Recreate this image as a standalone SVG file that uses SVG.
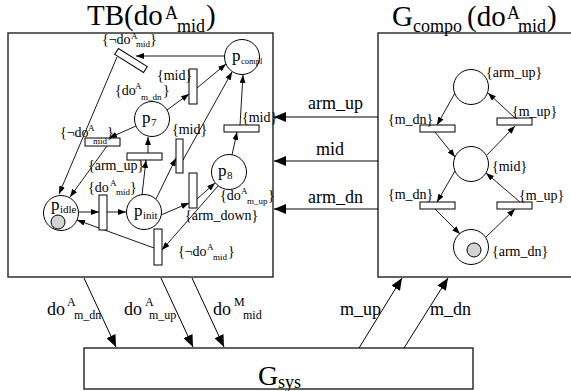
<svg xmlns="http://www.w3.org/2000/svg" width="571" height="391" viewBox="0 0 571 391">
  <style>
    text { font-family: "Liberation Serif", "Times New Roman", serif; fill: #000; }
    .ttl { font-size: 29px; }
    .tsub { font-size: 18px; }
    .io { font-size: 18px; }
    .iosub { font-size: 12px; }
    .lb { font-size: 14px; }
    .sm { font-size: 9px; }
    .pn { font-size: 17px; }
    .ps { font-size: 11px; }
    .box { fill: #fff; stroke: #222; stroke-width: 1.4; }
    .pl { fill: #fff; stroke: #000; stroke-width: 1; }
    .tr { fill: #fff; stroke: #000; stroke-width: 1; }
    .tok { fill: #d3d3d3; stroke: #000; stroke-width: 1; }
    .arc { fill: none; stroke: #000; stroke-width: 0.9; marker-end: url(#as); }
    .big { fill: none; stroke: #000; stroke-width: 1; marker-end: url(#ab); }
  </style>
  <defs>
    <marker id="ab" markerWidth="12" markerHeight="10" refX="12" refY="5" orient="auto" markerUnits="userSpaceOnUse">
      <path d="M0,0 L12,5 L0,10 z" fill="#000"/>
    </marker>
    <marker id="as" markerWidth="8" markerHeight="6" refX="8" refY="3" orient="auto" markerUnits="userSpaceOnUse">
      <path d="M0,0 L8,3 L0,6 z" fill="#000"/>
    </marker>
  </defs>

  <rect width="571" height="391" fill="#fff"/>

  <!-- subsystem boxes -->
  <g id="tb">
    <rect class="box" x="8" y="33" width="265" height="244"/>
    <text class="ttl" x="87" y="25">TB(do</text>
    <text class="tsub" x="165" y="19">A</text>
    <text class="tsub" x="177" y="32">mid</text>
    <text class="ttl" x="206" y="25">)</text>
  </g>
  <g id="gcompo">
    <rect class="box" x="378" y="33" width="200" height="244"/>
    <text class="ttl" x="392" y="26">G</text>
    <text class="tsub" x="413" y="32" font-size="20">compo</text>
    <text class="ttl" x="467" y="26">(do</text>
    <text class="tsub" x="507" y="19">A</text>
    <text class="tsub" x="518" y="32">mid</text>
    <text class="ttl" x="547" y="26">)</text>
  </g>
  <g id="gsys">
    <rect class="box" x="84" y="348" width="389" height="41"/>
    <text x="258" y="385" font-size="28">G</text>
    <text x="278" y="388" font-size="18">sys</text>
  </g>

  <!-- connectors -->
  <g id="connectors">
    <!-- between the boxes -->
    <line class="big" x1="378" y1="117" x2="274" y2="117"/>
    <line class="big" x1="378" y1="161" x2="274" y2="161"/>
    <line class="big" x1="378" y1="209" x2="274" y2="209"/>
    <line class="big" x1="84" y1="278" x2="116" y2="347"/>
    <line class="big" x1="161" y1="278" x2="193" y2="347"/>
    <line class="big" x1="192" y1="278" x2="224" y2="347"/>
    <line class="big" x1="359" y1="348" x2="402" y2="278"/>
    <line class="big" x1="404" y1="348" x2="448" y2="278"/>

    <!-- net inside TB -->
    <line class="arc" x1="225" y1="56" x2="136" y2="56"/>
    <line class="arc" x1="117" y1="57" x2="59" y2="194"/>
    <line class="arc" x1="136" y1="126" x2="109" y2="138"/>
    <line class="arc" x1="107" y1="146" x2="70" y2="197"/>
    <line class="arc" x1="142" y1="195" x2="146" y2="160"/>
    <line class="arc" x1="148" y1="153" x2="148" y2="137"/>
    <line class="arc" x1="79" y1="212" x2="99" y2="212"/>
    <line class="arc" x1="107" y1="212" x2="126" y2="212"/>
    <line class="arc" x1="156" y1="199" x2="176" y2="158"/>
    <line class="arc" x1="183" y1="160" x2="232" y2="72"/>
    <line class="arc" x1="167" y1="110" x2="189" y2="94"/>
    <line class="arc" x1="197" y1="88" x2="226" y2="64"/>
    <line class="arc" x1="240" y1="125" x2="243" y2="75"/>
    <line class="arc" x1="232" y1="155" x2="237" y2="132"/>
    <line class="arc" x1="161" y1="215" x2="189" y2="203"/>
    <line class="arc" x1="197" y1="199" x2="215" y2="183"/>
    <line class="arc" x1="218" y1="186" x2="162" y2="250"/>
    <line class="arc" x1="154" y1="248" x2="77" y2="220"/>

    <!-- net inside G_compo -->
    <line class="arc" x1="455" y1="93" x2="437" y2="125"/>
    <line class="arc" x1="435" y1="132" x2="455" y2="157"/>
    <line class="arc" x1="487" y1="155" x2="515" y2="126"/>
    <line class="arc" x1="515" y1="118" x2="488" y2="93"/>
    <line class="arc" x1="455" y1="171" x2="437" y2="202"/>
    <line class="arc" x1="435" y1="209" x2="460" y2="234"/>
    <line class="arc" x1="486" y1="237" x2="515" y2="209"/>
    <line class="arc" x1="520" y1="202" x2="486" y2="173"/>
  </g>

  <!-- labels of the connectors between boxes -->
  <g id="io-labels">
    <text class="io" x="308" y="109">arm_up</text>
    <text class="io" x="316" y="155">mid</text>
    <text class="io" x="308" y="203">arm_dn</text>
    <text class="io" x="47" y="315" font-size="20">do</text>
    <text class="iosub" x="67" y="306">A</text>
    <text class="iosub" x="74" y="319">m_dn</text>
    <text class="io" x="124" y="315" font-size="20">do</text>
    <text class="iosub" x="145" y="306">A</text>
    <text class="iosub" x="149" y="319">m_up</text>
    <text class="io" x="213" y="315" font-size="20">do</text>
    <text class="iosub" x="234" y="306">M</text>
    <text class="iosub" x="243" y="319">mid</text>
    <text class="io" x="340" y="315">m_up</text>
    <text class="io" x="430" y="315">m_dn</text>
  </g>

  <!-- places of TB -->
  <g id="p_compl">
    <circle class="pl" cx="242" cy="57" r="17.5"/>
    <text class="pn" x="232" y="61">p</text>
    <text x="241" y="64" font-size="8.5">compl</text>
  </g>
  <g id="p_7">
    <circle class="pl" cx="152" cy="119" r="17.5"/>
    <text class="pn" x="142" y="123">p</text>
    <text class="ps" x="151" y="126">7</text>
  </g>
  <g id="p_idle">
    <circle class="pl" cx="61" cy="213" r="17.5"/>
    <circle class="tok" cx="58" cy="222" r="7"/>
    <text class="pn" x="51" y="210">p</text>
    <text class="ps" x="60" y="213">idle</text>
  </g>
  <g id="p_init">
    <circle class="pl" cx="144" cy="212" r="17.5"/>
    <text class="pn" x="134" y="216">p</text>
    <text class="ps" x="143" y="219">init</text>
  </g>
  <g id="p_8">
    <circle class="pl" cx="229" cy="172" r="17.5"/>
    <text class="pn" x="218" y="176">p</text>
    <text class="ps" x="227" y="179">8</text>
  </g>

  <!-- transitions of TB -->
  <g id="t_ndo_top"><rect class="tr" x="114" y="57" width="34" height="7" transform="rotate(32 131 60.5)"/></g>
  <g id="t_ndo_left"><rect class="tr" x="85" y="138" width="35" height="8"/></g>
  <g id="t_arm_up"><rect class="tr" x="127" y="153" width="35" height="7"/></g>
  <g id="t_do_mid"><rect class="tr" x="99" y="195" width="8" height="35"/></g>
  <g id="t_mid_low"><rect class="tr" x="176" y="139" width="7" height="34"/></g>
  <g id="t_mid_up"><rect class="tr" x="189" y="69" width="8" height="35"/></g>
  <g id="t_mid_right"><rect class="tr" x="224" y="125" width="35" height="7"/></g>
  <g id="t_arm_down"><rect class="tr" x="189" y="173" width="8" height="35"/></g>
  <g id="t_ndo_bottom"><rect class="tr" x="154" y="229" width="8" height="36"/></g>

  <!-- guard labels of TB -->
  <g id="tb-labels">
    <text class="lb" x="102" y="44">{¬do</text>
    <text class="sm" x="131" y="39">A</text>
    <text class="sm" x="136" y="47">mid</text>
    <text class="lb" x="150" y="44">}</text>

    <text class="lb" x="60" y="137">{¬do</text>
    <text class="sm" x="88" y="131">A</text>
    <text class="sm" x="93" y="144">mid</text>
    <text class="lb" x="107" y="137">}</text>

    <text class="lb" x="115" y="95">{do</text>
    <text class="sm" x="135" y="89">A</text>
    <text class="sm" x="141" y="100">m_dn</text>
    <text class="lb" x="163" y="95">}</text>

    <text class="lb" x="157" y="80">{mid}</text>
    <text class="lb" x="172" y="134">{mid}</text>
    <text class="lb" x="242" y="122">{mid}</text>
    <text class="lb" x="88" y="170">{arm_up}</text>

    <text class="lb" x="88" y="192">{do</text>
    <text class="sm" x="110" y="186">A</text>
    <text class="sm" x="116" y="195">mid</text>
    <text class="lb" x="130" y="192">}</text>

    <text class="lb" x="220" y="200">{do</text>
    <text class="sm" x="241" y="194">A</text>
    <text class="sm" x="247" y="204">m_up</text>
    <text class="lb" x="268" y="200">}</text>

    <text class="lb" x="185" y="220">{arm_down}</text>

    <text class="lb" x="178" y="256">{¬do</text>
    <text class="sm" x="207" y="250">A</text>
    <text class="sm" x="213" y="260">mid</text>
    <text class="lb" x="228" y="256">}</text>
  </g>

  <!-- places of G_compo -->
  <g id="c_arm_up"><circle class="pl" cx="471" cy="87" r="17.5"/></g>
  <g id="c_mid"><circle class="pl" cx="471" cy="164" r="17.5"/></g>
  <g id="c_arm_dn">
    <circle class="pl" cx="471" cy="247" r="17.5"/>
    <circle class="tok" cx="474" cy="250" r="7"/>
  </g>

  <!-- transitions of G_compo -->
  <g id="c_dn_up"><rect class="tr" x="420" y="125" width="35" height="7"/></g>
  <g id="c_up_up"><rect class="tr" x="497" y="118" width="35" height="7"/></g>
  <g id="c_dn_low"><rect class="tr" x="420" y="202" width="35" height="7"/></g>
  <g id="c_up_low"><rect class="tr" x="497" y="202" width="35" height="7"/></g>

  <!-- labels of G_compo -->
  <g id="compo-labels">
    <text class="lb" x="486" y="77">{arm_up}</text>
    <text class="lb" x="492" y="171">{mid}</text>
    <text class="lb" x="492" y="256">{arm_dn}</text>
    <text class="lb" x="388" y="124">{m_dn}</text>
    <text class="lb" x="512" y="116">{m_up}</text>
    <text class="lb" x="388" y="199">{m_dn}</text>
    <text class="lb" x="519" y="200">{m_up}</text>
  </g>
</svg>
